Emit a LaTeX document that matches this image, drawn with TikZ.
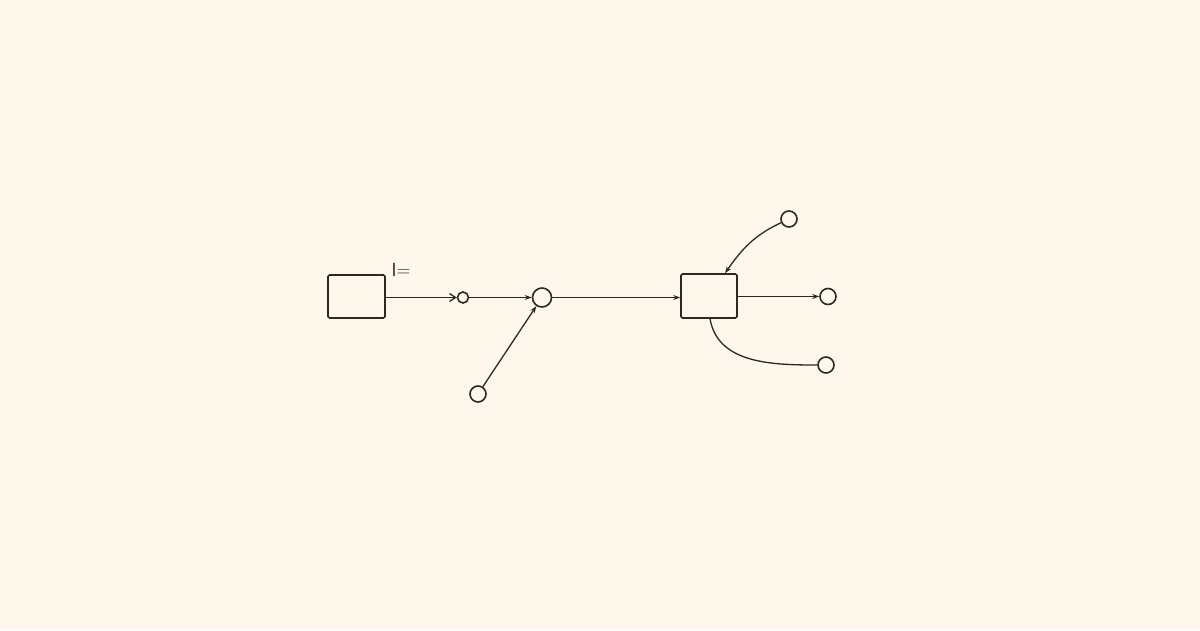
\documentclass[tikz,border=0pt]{standalone}
\usetikzlibrary{arrows.meta}
\definecolor{bg}{HTML}{FDF7EC}
\definecolor{ink}{HTML}{2B2926}
\begin{document}
\begin{tikzpicture}[x=1pt,y=-1pt,
  ink/.style={draw=ink,line width=1.6pt},
  boxnode/.style={ink,rectangle,rounded corners=1.5pt,minimum width=57pt,minimum height=43pt,inner sep=0pt},
  dot/.style={ink,circle,inner sep=0pt,minimum size=#1},
  conn/.style={draw=ink,line width=1.3pt,-{Stealth[length=7pt,width=5pt]}},
  openconn/.style={draw=ink,line width=1.3pt,-{Straight Barb[length=6pt,width=8pt]}},
  plain/.style={draw=ink,line width=1.3pt}]
\fill[bg] (0,0) rectangle (1200,630);
\useasboundingbox (0,0) rectangle (1200,630);
\node[boxnode] (b1) at (356.5,296.5) {};
\node[dot=11pt] (s1) at (463,297.5) {};
\node[dot=19pt] (c2) at (542,297.5) {};
\node[dot=16pt] (c3) at (478,394) {};
\node[boxnode,minimum width=56pt,minimum height=44pt] (b2) at (709,296) {};
\node[dot=16pt] (o1) at (828,296.5) {};
\node[dot=16pt] (o2) at (789,219) {};
\node[dot=16pt] (o3) at (826,365) {};
\node[text=ink,font=\sffamily\fontsize{19}{19}\selectfont,inner sep=0pt] (lab) at (401,270) {I=};
\draw[openconn] (b1.east |- s1) -- (s1);
\draw[conn] (s1) -- (c2);
\draw[conn] (c3) -- (c2);
\draw[conn] (c2) -- (b2.west |- c2);
\draw[conn] (b2.east |- o1) -- (o1);
\draw[conn] (o2) to[out=205,in=55] ([xshift=16pt]b2.north);
\draw[plain] ([xshift=1pt]b2.south) to[out=-80,in=180] (o3);
\end{tikzpicture}
\end{document}
